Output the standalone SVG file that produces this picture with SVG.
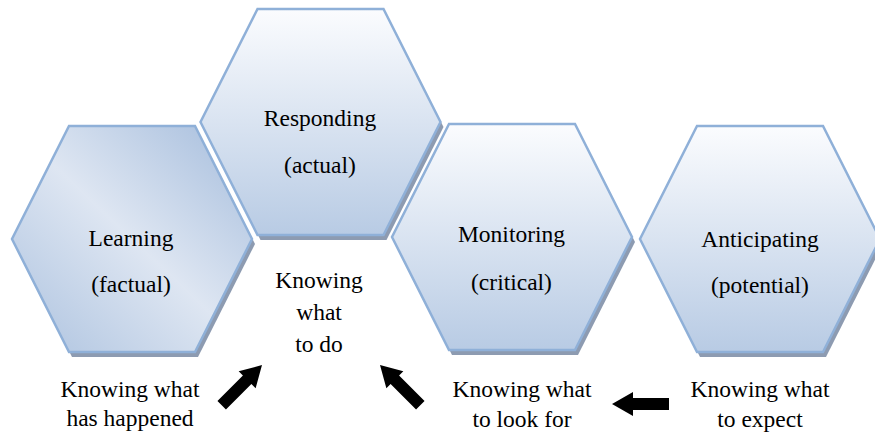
<svg xmlns="http://www.w3.org/2000/svg" width="875" height="441" viewBox="0 0 875 441">
  <defs>
    <!-- Hexagon centred on the origin -->
    <polygon id="hex" points="-63,-113 63,-113 120,0 63,113 -63,113 -120,0"/>
    <!-- Block arrow, tip at origin, pointing along +x -->
    <polygon id="blockArrow" points="0,0 -21,-12 -21,-6 -57,-6 -57,6 -21,6 -21,12"/>
    <linearGradient id="gradDiag" x1="1" y1="0" x2="0" y2="1">
      <stop offset="0" stop-color="#a4bcdc"/>
      <stop offset="0.5" stop-color="#dee6f2"/>
      <stop offset="1" stop-color="#acc2df"/>
    </linearGradient>
    <linearGradient id="gradVert" x1="0" y1="0" x2="0" y2="1">
      <stop offset="0" stop-color="#fbfcfe"/>
      <stop offset="1" stop-color="#b8cbe4"/>
    </linearGradient>
  </defs>
  <style>
    .shadow { fill: #8d9bb1; }
    .hexDiag { fill: url(#gradDiag); stroke: #8fb0d8; stroke-width: 2.5; stroke-linejoin: miter; }
    .hexVert { fill: url(#gradVert); stroke: #8fb0d8; stroke-width: 2.5; stroke-linejoin: miter; }
    text { font-family: "Liberation Serif", "Times New Roman", serif; font-size: 23.5px; fill: #000; text-anchor: middle; }
    .arrow { fill: #000; }
  </style>

  <rect width="875" height="441" fill="#ffffff"/>

  <g id="learning">
    <use href="#hex" class="shadow" transform="translate(135,244)"/>
    <use href="#hex" class="hexDiag" transform="translate(132,239)"/>
    <text x="131" y="246">Learning</text>
    <text x="131" y="292">(factual)</text>
  </g>

  <g id="responding">
    <use href="#hex" class="shadow" transform="translate(323.5,127)"/>
    <use href="#hex" class="hexVert" transform="translate(320.5,122)"/>
    <text x="320" y="126">Responding</text>
    <text x="320" y="173">(actual)</text>
  </g>

  <g id="monitoring">
    <use href="#hex" class="shadow" transform="translate(515,242)"/>
    <use href="#hex" class="hexVert" transform="translate(512,237)"/>
    <text x="511.5" y="242">Monitoring</text>
    <text x="511.5" y="290">(critical)</text>
  </g>

  <g id="anticipating">
    <use href="#hex" class="shadow" transform="translate(763,244)"/>
    <use href="#hex" class="hexVert" transform="translate(760,239)"/>
    <text x="760" y="247">Anticipating</text>
    <text x="760" y="293">(potential)</text>
  </g>

  <g id="knowing-to-do">
    <text x="319" y="288">Knowing</text>
    <text x="319" y="320">what</text>
    <text x="319" y="352">to do</text>
  </g>

  <g id="knowing-happened">
    <text x="130" y="397">Knowing what</text>
    <text x="130" y="426">has happened</text>
  </g>

  <g id="knowing-look-for">
    <text x="522" y="397">Knowing what</text>
    <text x="522" y="427">to look for</text>
  </g>

  <g id="knowing-expect">
    <text x="760" y="397">Knowing what</text>
    <text x="760" y="427">to expect</text>
  </g>

  <g id="connectors">
    <use href="#blockArrow" class="arrow" transform="translate(262,365) rotate(-45)"/>
    <use href="#blockArrow" class="arrow" transform="translate(380,365) rotate(-135)"/>
    <use href="#blockArrow" class="arrow" transform="translate(612,404) rotate(180)"/>
  </g>
</svg>
